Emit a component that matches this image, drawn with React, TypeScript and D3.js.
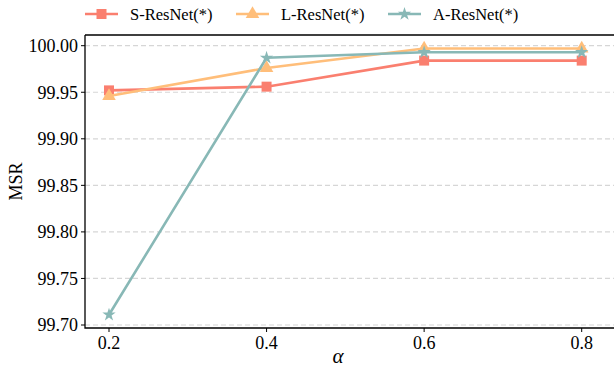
import { useEffect, useRef } from "react";
import * as d3 from "d3";

const alphas = [0.2, 0.4, 0.6, 0.8];
const sResNet = [99.952, 99.956, 99.984, 99.984];
const lResNet = [99.946, 99.976, 99.997, 99.997];
const aResNet = [99.711, 99.987, 99.993, 99.993];
const yTicks = [99.7, 99.75, 99.8, 99.85, 99.9, 99.95, 100.0];

const series = [
    { name: "S-ResNet(*)", values: sResNet, color: "#fa7f6f", symbol: d3.symbolSquare, size: 100 },
    { name: "L-ResNet(*)", values: lResNet, color: "#ffbe7a", symbol: d3.symbolTriangle, size: 80 },
    { name: "A-ResNet(*)", values: aResNet, color: "#88b8b6", symbol: d3.symbolStar, size: 55 },
];

function App() {
    const ref = useRef<SVGSVGElement>(null);

    useEffect(() => {
        const svg = d3.select(ref.current);
        svg.selectAll("*").remove();

        const left = 85, top = 35, bottom = 328;
        const x = d3.scaleLinear().domain([0.2, 0.8]).range([109, 581.7]);
        const y = d3.scaleLinear().domain([99.7, 100.0]).range([325, 45.7]);

        // grid
        svg.append("g")
            .selectAll("line")
            .data(yTicks)
            .join("line")
            .attr("x1", left).attr("x2", 614)
            .attr("y1", (d) => y(d)).attr("y2", (d) => y(d))
            .attr("stroke", "#d6d6d6")
            .attr("stroke-width", 1.2)
            .attr("stroke-dasharray", "5,3");

        // spines
        svg.append("path")
            .attr("d", `M${left},${top}H614M${left},${top}V${bottom}H614`)
            .attr("fill", "none")
            .attr("stroke", "#000")
            .attr("stroke-width", 1.3);

        // y ticks
        const yt = svg.append("g").selectAll("g").data(yTicks).join("g")
            .attr("transform", (d) => `translate(${left},${y(d)})`);
        yt.append("line").attr("x1", -4).attr("x2", 0).attr("stroke", "#000");
        yt.append("text")
            .attr("x", -7).attr("dy", "0.35em")
            .attr("text-anchor", "end")
            .attr("font-size", 18)
            .text((d) => d.toFixed(2));

        // x ticks
        const xt = svg.append("g").selectAll("g").data(alphas).join("g")
            .attr("transform", (d) => `translate(${x(d)},${bottom})`);
        xt.append("line").attr("y1", 0).attr("y2", 4).attr("stroke", "#000");
        xt.append("text")
            .attr("y", 21)
            .attr("text-anchor", "middle")
            .attr("font-size", 18)
            .text((d) => d.toFixed(1));

        svg.append("text")
            .attr("x", 338).attr("y", 363)
            .attr("text-anchor", "middle")
            .attr("font-size", 21).attr("font-style", "italic")
            .text("α");

        svg.append("text")
            .attr("transform", `translate(22,${(top + bottom) / 2}) rotate(-90)`)
            .attr("text-anchor", "middle")
            .attr("font-size", 18)
            .text("MSR");

        const line = d3.line<number>()
            .x((_, i) => x(alphas[i]))
            .y((d) => y(d));

        series.forEach((s) => {
            const g = svg.append("g");
            g.append("path")
                .attr("d", line(s.values)!)
                .attr("fill", "none")
                .attr("stroke", s.color)
                .attr("stroke-width", 2.6);
            g.selectAll("path.m").data(s.values).join("path")
                .attr("class", "m")
                .attr("d", d3.symbol().type(s.symbol).size(s.size)()!)
                .attr("transform", (d, i) => `translate(${x(alphas[i])},${y(d)})`)
                .attr("fill", s.color);
        });

        // legend
        const legX = [85, 236, 388];
        series.forEach((s, i) => {
            const g = svg.append("g").attr("transform", `translate(${legX[i]},14)`);
            g.append("line").attr("x1", 0).attr("x2", 33)
                .attr("stroke", s.color).attr("stroke-width", 2.6);
            g.append("path")
                .attr("d", d3.symbol().type(s.symbol).size(s.size)()!)
                .attr("transform", "translate(16.5,0)")
                .attr("fill", s.color);
            g.append("text")
                .attr("x", 45).attr("dy", "0.35em")
                .attr("font-size", 16.5)
                .text(s.name);
        });
    }, []);

    return (
        <svg ref={ref} width={614} height={369}
            style={{ position: "absolute", left: 0, top: 0, background: "#fff", fontFamily: "Liberation Serif" }} />
    );
}

export default App;
